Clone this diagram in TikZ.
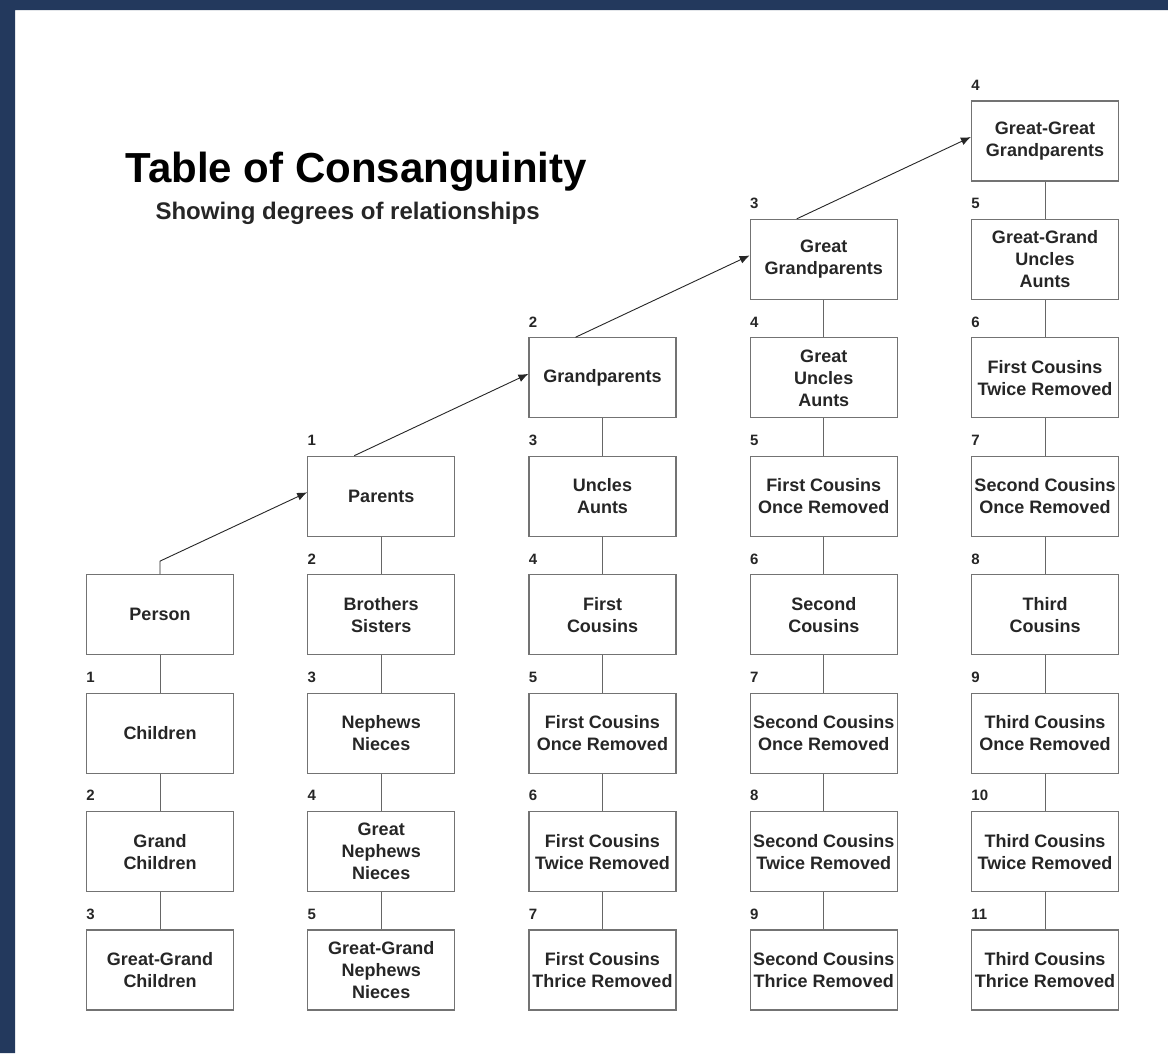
\documentclass[tikz,border=0pt]{standalone}
\usepackage{fontspec}
\setmainfont{Liberation Sans}
\usetikzlibrary{arrows.meta}
\usetikzlibrary{positioning}

\definecolor{navy}{RGB}{35,57,93}
\tikzset{
  rel/.style={draw=black!55, line width=1.2pt, minimum width=147pt, minimum height=80pt,
    inner sep=0pt, align=center, text=black!85, font=\fontsize{18}{22}\selectfont\bfseries},
  deg/.style={anchor=base west, text=black!85, font=\fontsize{15}{18}\selectfont\bfseries},
  link/.style={draw=black!60, line width=1pt},
  upline/.style={draw=black!85, line width=0.9pt, -{Latex[length=10pt,width=8pt]}}
}

\begin{document}
\begin{tikzpicture}[x=1pt,y=-1pt]
    \fill[white] (0,0) rectangle (1168,1053);
    \fill[navy] (0,0) rectangle (1168,10) (0,0) rectangle (15,1053);
    \useasboundingbox (0,0) rectangle (1168,1053);
    \node[anchor=base west, font=\fontsize{42}{48}\selectfont\bfseries] (title) at (122,182) {Table of Consanguinity};
    \node[anchor=base west, font=\fontsize{24}{28}\selectfont\bfseries, text=black!85] (sub) at (152,219) {Showing degrees of relationships};
    % boxes: column / row / text
    \foreach \c/\r/\t in {0/4/Person, 0/5/Children, 0/6/{Grand\\Children}, 0/7/{Great-Grand\\Children},
        1/3/Parents, 1/4/{Brothers\\Sisters}, 1/5/{Nephews\\Nieces}, 1/6/{Great\\Nephews\\Nieces}, 1/7/{Great-Grand\\Nephews\\Nieces},
        2/2/Grandparents, 2/3/{Uncles\\Aunts}, 2/4/{First\\Cousins}, 2/5/{First Cousins\\Once Removed},
        2/6/{First Cousins\\Twice Removed}, 2/7/{First Cousins\\Thrice Removed},
        3/1/{Great\\Grandparents}, 3/2/{Great\\Uncles\\Aunts}, 3/3/{First Cousins\\Once Removed}, 3/4/{Second\\Cousins},
        3/5/{Second Cousins\\Once Removed}, 3/6/{Second Cousins\\Twice Removed}, 3/7/{Second Cousins\\Thrice Removed},
        4/0/{Great-Great\\Grandparents}, 4/1/{Great-Grand\\Uncles\\Aunts}, 4/2/{First Cousins\\Twice Removed},
        4/3/{Second Cousins\\Once Removed}, 4/4/{Third\\Cousins}, 4/5/{Third Cousins\\Once Removed},
        4/6/{Third Cousins\\Twice Removed}, 4/7/{Third Cousins\\Thrice Removed}} {
      \node[rel] (n\c\r) at (160+221.25*\c, 141+118.43*\r) {\t};
      \pgfmathtruncatemacro\d{\r+2*\c-4}
      \ifnum\d>0
        \node[deg] (d\c\r) at ([xshift=-3pt,yshift=10pt]n\c\r.north west) {\d};
      \fi
    }
    % vertical links
    \foreach \c/\s in {0/4,1/3,2/2,3/1,4/0} {
      \foreach \r in {\s,...,6} {
        \pgfmathtruncatemacro\q{\r+1}
        \draw[link] (n\c\r.south) -- (n\c\q.north);
      }
    }
    % line of ascent
    \draw[upline] (n04.north) -- ++(0,-13) -- ([yshift=4pt]n13.west);
    \draw[upline] ([xshift=-27pt]n13.north) -- ([yshift=4pt]n22.west);
    \draw[upline] ([xshift=-27pt]n22.north) -- ([yshift=4pt]n31.west);
    \draw[upline] ([xshift=-27pt]n31.north) -- ([yshift=4pt]n40.west);
\end{tikzpicture}
\end{document}
